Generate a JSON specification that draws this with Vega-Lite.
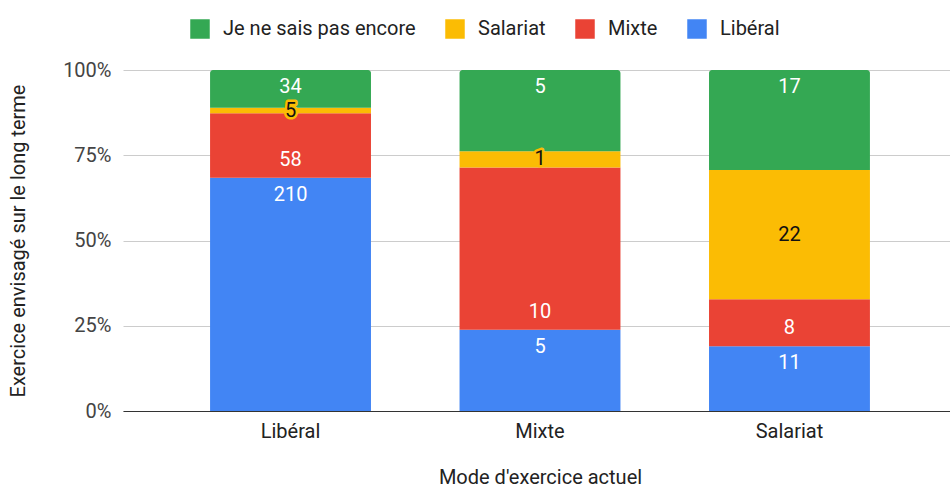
{
  "$schema": "https://vega.github.io/schema/vega-lite/v6.json",
  "width": 834,
  "height": 341,
  "autosize": {"type": "none"},
  "padding": {"left": 123, "top": 70, "right": 0, "bottom": 77},
  "config": {"font": "Roboto", "view": {"stroke": null}},
  "data": {
    "values": [
      {"actuel": "Libéral", "envisage": "Libéral", "n": 210},
      {"actuel": "Libéral", "envisage": "Mixte", "n": 58},
      {"actuel": "Libéral", "envisage": "Salariat", "n": 5},
      {"actuel": "Libéral", "envisage": "Je ne sais pas encore", "n": 34},
      {"actuel": "Mixte", "envisage": "Libéral", "n": 5},
      {"actuel": "Mixte", "envisage": "Mixte", "n": 10},
      {"actuel": "Mixte", "envisage": "Salariat", "n": 1},
      {"actuel": "Mixte", "envisage": "Je ne sais pas encore", "n": 5},
      {"actuel": "Salariat", "envisage": "Libéral", "n": 11},
      {"actuel": "Salariat", "envisage": "Mixte", "n": 8},
      {"actuel": "Salariat", "envisage": "Salariat", "n": 22},
      {"actuel": "Salariat", "envisage": "Je ne sais pas encore", "n": 17}
    ]
  },
  "transform": [
    {"calculate": "indexof(['Libéral','Mixte','Salariat','Je ne sais pas encore'], datum.envisage)", "as": "ord"},
    {"stack": "n", "groupby": ["actuel"], "sort": [{"field": "ord", "order": "ascending"}], "offset": "normalize", "as": ["y0", "y1"]},
    {"calculate": "(datum.y0 + datum.y1) / 2", "as": "ymid"}
  ],
  "encoding": {
    "x": {
      "field": "actuel",
      "type": "nominal",
      "sort": ["Libéral", "Mixte", "Salariat"],
      "scale": {"paddingInner": 0.355, "paddingOuter": 0.349},
      "axis": {
        "title": "Mode d'exercice actuel",
        "labelAngle": 0,
        "labelFontSize": 20,
        "labelColor": "#222222",
        "labelPadding": 10,
        "ticks": false,
        "domainColor": "#333333",
        "domainWidth": 1,
        "titleFontSize": 20,
        "titleFontWeight": "normal",
        "titleColor": "#222222",
        "titlePadding": 26
      }
    }
  },
  "layer": [
    {
      "transform": [{"filter": "datum.envisage !== 'Je ne sais pas encore'"}],
      "mark": {"type": "bar"},
      "encoding": {
        "y": {
          "field": "y0",
          "type": "quantitative",
          "scale": {"domain": [0, 1]},
          "axis": {
            "title": "Exercice envisagé sur le long terme",
            "values": [0, 0.25, 0.5, 0.75, 1],
            "format": ".0%",
            "domain": false,
            "ticks": false,
            "labelFontSize": 20,
            "labelColor": "#444444",
            "labelPadding": 12,
            "gridColor": "#cccccc",
            "titleFontSize": 20,
            "titleFontWeight": "normal",
            "titleColor": "#222222",
            "titlePadding": 34
          }
        },
        "y2": {"field": "y1"},
        "color": {
          "field": "envisage",
          "type": "nominal",
          "scale": {
            "domain": ["Je ne sais pas encore", "Salariat", "Mixte", "Libéral"],
            "range": ["#34a853", "#fbbc04", "#ea4335", "#4285f4"]
          },
          "legend": {
            "orient": "none",
            "legendX": 67,
            "legendY": -51,
            "direction": "horizontal",
            "title": null,
            "symbolType": "square",
            "symbolSize": 380,
            "symbolStrokeWidth": 0,
            "labelFontSize": 20,
            "labelLimit": 400,
            "labelColor": "#222222",
            "labelOffset": 13,
            "columnPadding": 29,
            "padding": 0
          }
        }
      }
    },
    {
      "transform": [{"filter": "datum.envisage === 'Je ne sais pas encore'"}],
      "mark": {"type": "bar", "cornerRadiusTopLeft": 3, "cornerRadiusTopRight": 3},
      "encoding": {
        "y": {"field": "y0", "type": "quantitative"},
        "y2": {"field": "y1"},
        "color": {"field": "envisage", "type": "nominal"}
      }
    },
    {
      "transform": [{"filter": "datum.envisage === 'Libéral' || datum.envisage === 'Je ne sais pas encore'"}],
      "mark": {"type": "text", "dy": 17, "color": "white", "fontSize": 20, "baseline": "middle"},
      "encoding": {
        "y": {"field": "y1", "type": "quantitative"},
        "text": {"field": "n", "type": "quantitative"}
      }
    },
    {
      "transform": [{"filter": "datum.envisage === 'Mixte'"}],
      "mark": {"type": "text", "dy": -18, "color": "white", "fontSize": 20, "baseline": "middle"},
      "encoding": {
        "y": {"field": "y0", "type": "quantitative"},
        "text": {"field": "n", "type": "quantitative"}
      }
    },
    {
      "transform": [{"filter": "datum.envisage === 'Salariat'"}],
      "mark": {"type": "text", "color": "#fbbc04", "stroke": "#fbbc04", "strokeWidth": 5, "strokeJoin": "round", "fontSize": 20, "baseline": "middle"},
      "encoding": {
        "y": {"field": "ymid", "type": "quantitative"},
        "text": {"field": "n", "type": "quantitative"}
      }
    },
    {
      "transform": [{"filter": "datum.envisage === 'Salariat'"}],
      "mark": {"type": "text", "color": "#111111", "fontSize": 20, "baseline": "middle"},
      "encoding": {
        "y": {"field": "ymid", "type": "quantitative"},
        "text": {"field": "n", "type": "quantitative"}
      }
    }
  ]
}
